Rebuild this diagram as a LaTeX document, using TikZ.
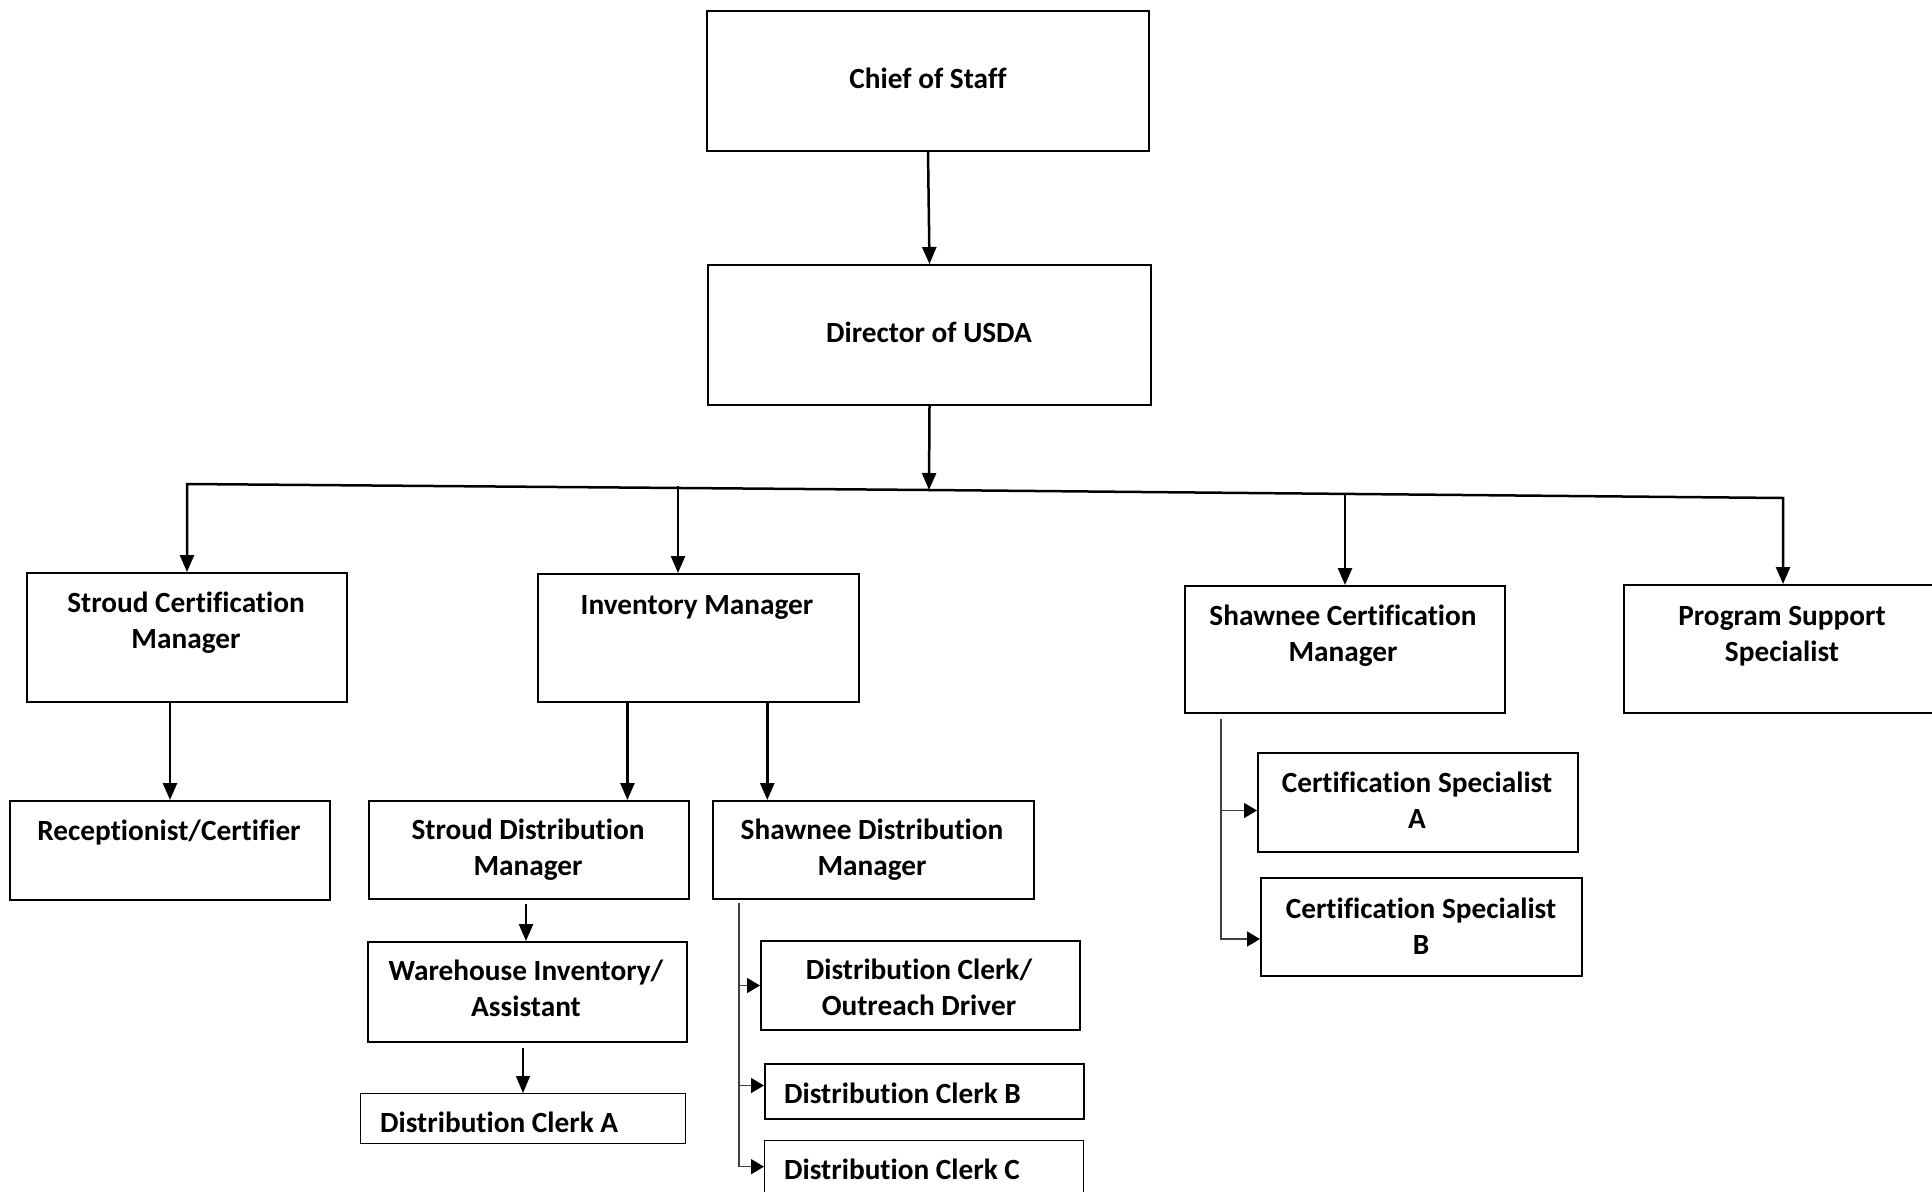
\documentclass[tikz,border=0pt]{standalone}
\usepackage{fontspec}
\setmainfont{Carlito}[Ligatures=NoCommon]
\usetikzlibrary{arrows.meta,calc}
\begin{document}
\begin{tikzpicture}[x=1pt,y=-1pt,
  box/.style={draw, line width=2pt, rectangle, inner sep=0pt, anchor=north west},
  tbox/.style={box, line width=1.3pt},
  lbl/.style={font=\fontsize{29.3}{36}\selectfont\bfseries, align=center, inner sep=0pt},
  lbll/.style={font=\fontsize{29.3}{36}\selectfont\bfseries, anchor=west, inner sep=0pt},
  arr/.style={line width=2.5pt, -{Triangle[length=17pt,width=14pt]}},
  tarr/.style={line width=1.3pt, -{Triangle[length=17pt,width=14pt]}},
  sarr/.style={line width=1.5pt, draw=black!75, -{Triangle[length=13pt,width=15pt,fill=black,color=black]}}]
\useasboundingbox (0,0) rectangle (1932,1191);
% boxes
\node[box, minimum width=442, minimum height=140] (chief) at (706,10) {};
\node[box, minimum width=443, minimum height=140] (dir) at (707,264) {};
\node[box, minimum width=320, minimum height=129] (scm) at (26,572) {};
\node[box, minimum width=321, minimum height=128] (inv) at (537,573) {};
\node[box, minimum width=320, minimum height=127] (shcm) at (1184,585) {};
\node[box, minimum width=318, minimum height=128] (pss) at (1623,584) {};
\node[box, minimum width=320, minimum height=99] (rec) at (9,800) {};
\node[box, minimum width=320, minimum height=98] (sdm) at (368,800) {};
\node[box, minimum width=321, minimum height=98] (shdm) at (712,800) {};
\node[box, minimum width=319, minimum height=100] (wia) at (367,941) {};
\node[tbox, minimum width=325, minimum height=50] (dca) at (360,1093) {};
\node[box, minimum width=319, minimum height=89] (dco) at (760,940) {};
\node[box, minimum width=319, minimum height=55] (dcb) at (764,1063) {};
\node[tbox, minimum width=319, minimum height=52] (dcc) at (764,1140) {};
\node[box, minimum width=320, minimum height=99] (csa) at (1257,752) {};
\node[box, minimum width=321, minimum height=98] (csb) at (1260,877) {};
% texts
\node[lbl] (tchief) at (928,78) {Chief of Staff};
\node[lbl] (tdir) at (929,332) {Director of USDA};
\node[lbl] (tscm) at (186,623) {Stroud Certification\\Manager};
\node[lbl] (tinv) at (697,607) {Inventory Manager};
\node[lbl] (tshcm) at (1343,636) {Shawnee Certification\\Manager};
\node[lbl] (tpss) at (1782,636) {Program Support\\Specialist};
\node[lbl] (trec) at (169,833) {Receptionist/Certifier};
\node[lbl] (tsdm) at (528,850) {Stroud Distribution\\Manager};
\node[lbl] (tshdm) at (872,850) {Shawnee Distribution\\Manager};
\node[lbl] (twia) at (526,988) {Warehouse Inventory/\\Assistant};
\node[lbll] (tdca) at (380,1122) {Distribution Clerk A};
\node[lbl] (tdco) at (919,987) {Distribution Clerk/\\Outreach Driver};
\node[lbll] (tdcb) at (784,1093) {Distribution Clerk B};
\node[lbll] (tdcc) at (784,1169) {Distribution Clerk C};
\node[lbl] (tcsa) at (1417,800) {Certification Specialist\\A};
\node[lbl] (tcsb) at (1421,926) {Certification Specialist\\B};
% bus coordinates
\coordinate (bL) at (187,484);
\coordinate (bM) at (929,490);
\coordinate (bI) at (678,486);
\coordinate (bS) at (1345,494);
\coordinate (bR) at (1783,498);
% connectors
\draw[arr] (chief.south) -- (dir.north);
\draw[arr] (dir.south) -- (bM);
\draw[arr] (bM) -- (bL) -- (bL |- scm.north);
\draw[arr] (bM) -- (bR) -- (bR |- pss.north);
\draw[arr] (bI) -- (bI |- inv.north);
\draw[arr] (bS) -- (bS |- shcm.north);
\draw[arr] (rec.north |- scm.south) -- (rec.north);
\coordinate (i1) at ($(inv.south west)!0.28!(inv.south east)$);
\coordinate (i2) at ($(inv.south west)!0.713!(inv.south east)$);
\draw[arr] (i1) -- (i1 |- sdm.north);
\draw[arr] (i2) -- (i2 |- shdm.north);
\coordinate (s1) at ($(sdm.south)+(-3,4)$);
\draw[arr] (s1) -- (s1 |- wia.north);
\coordinate (w1) at ($(wia.south west)!0.486!(wia.south east)+(0,5)$);
\draw[tarr] (w1) -- (w1 |- dca.north);
% Shawnee distribution branch
\coordinate (sv) at ($(shdm.south west)+(27,3)$);
\draw[sarr] (sv) -- (sv |- dcc.west) -- (dcc.west);
\draw[sarr] (sv |- dco.west) -- (dco.west);
\coordinate (dcbp) at ($(dcb.west)+(0,-6)$);
\draw[sarr] (sv |- dcbp) -- (dcbp);
% Shawnee certification branch
\coordinate (ct) at ($(shcm.south west)+(37,5)$);
\coordinate (csap) at ($(csa.west)+(0,8)$);
\coordinate (csbp) at ($(csb.west)+(0,12)$);
\draw[sarr] (ct) -- (ct |- csbp) -- (csbp);
\draw[sarr] (ct |- csap) -- (csap);
\end{tikzpicture}
\end{document}
